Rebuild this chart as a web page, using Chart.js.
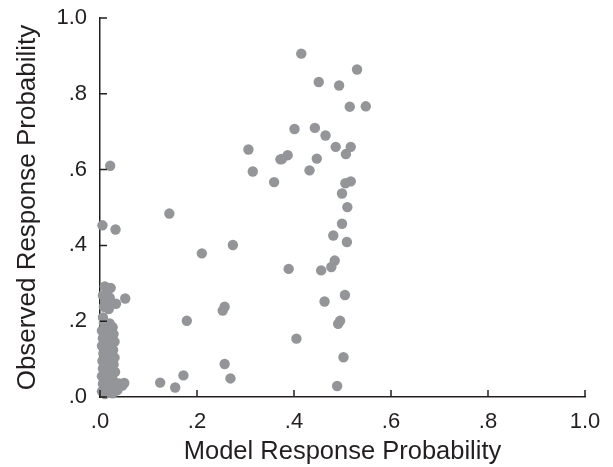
<!DOCTYPE html>
<html>
<head>
<meta charset="utf-8">
<script src="https://cdn.jsdelivr.net/npm/chart.js@4"></script>
<style>
html,body{margin:0;padding:0;background:#fff;}
#wrap{width:613px;height:467px;position:relative;}
</style>
</head>
<body>
<div id="wrap"><canvas id="c" width="613" height="467"></canvas></div>
<script>
// Model response probability (x) for each item
const modelProb = [
  // dense cluster near zero
  0.010,0.022,0.015,0.006,0.020,0.012,0.026,0.008,0.018,0.033,0.006,
  0.008,0.020,0.014,0.026,0.004,0.019,0.012,0.028,0.006,0.022,0.015,0.030,
  0.004,0.021,0.012,0.027,0.007,0.023,0.014,0.030,0.005,0.019,0.012,0.028,
  0.006,0.023,0.015,0.031,0.004,0.020,0.012,0.027,0.006,0.022,0.040,
  0.014,0.030,0.046,0.004,0.020,0.036,0.010,0.026,
  // scattered
  0.021,0.005,0.032,0.052,0.050,
  0.143,0.124,0.155,0.172,0.179,0.210,0.253,0.257,0.257,0.269,0.274,
  0.306,0.315,0.359,0.372,0.387,0.375,0.389,0.401,0.405,0.415,
  0.432,0.443,0.447,0.451,0.456,0.463,0.465,0.477,0.481,0.484,0.486,0.489,0.491,
  0.493,0.495,0.499,0.499,0.502,0.505,0.506,0.507,0.509,0.510,0.515,0.517,0.517,
  0.530,0.548
];
// Observed response probability (y) for each item
const observedProb = [
  0.292,0.288,0.278,0.268,0.262,0.252,0.247,0.238,0.232,0.246,0.210,
  0.196,0.194,0.185,0.184,0.175,0.176,0.165,0.166,0.155,0.154,0.145,0.146,
  0.135,0.136,0.125,0.124,0.115,0.116,0.105,0.104,0.095,0.096,0.085,0.086,
  0.075,0.074,0.065,0.066,0.055,0.056,0.045,0.044,0.035,0.034,0.036,
  0.025,0.026,0.030,0.015,0.016,0.018,0.008,0.010,
  0.610,0.453,0.442,0.260,0.037,
  0.484,0.038,0.025,0.057,0.201,0.379,0.228,0.238,0.087,0.049,0.401,
  0.653,0.595,0.567,0.627,0.638,0.628,0.338,0.707,0.154,0.906,
  0.598,0.710,0.629,0.831,0.334,0.252,0.690,0.343,0.426,0.360,0.660,0.029,0.193,
  0.822,0.201,0.537,0.457,0.105,0.269,0.564,0.641,0.409,0.501,0.766,0.569,0.660,
  0.864,0.767
];
const tickValues = [0, 0.2, 0.4, 0.6, 0.8, 1.0];
const tickLabels = ['.0', '.2', '.4', '.6', '.8', '1.0'];
const xTitle = 'Model Response Probability';
const yTitle = 'Observed Response Probability';

const points = modelProb.map((x, i) => ({x: x, y: observedProb[i]}));
const axisColor = '#231f20';
const textColor = '#231f20';
const fontFamily = '"Liberation Sans", Arial, sans-serif';

function labelFor(v) {
  const idx = tickValues.findIndex(t => Math.abs(t - v) < 1e-6);
  return idx >= 0 ? tickLabels[idx] : '';
}

const innerTicks = {
  id: 'innerTicks',
  afterDraw(chart) {
    const ctx = chart.ctx;
    const xs = chart.scales.x, ys = chart.scales.y;
    const L = 7;
    ctx.save();
    ctx.strokeStyle = axisColor;
    ctx.lineWidth = 1.5;
    ctx.beginPath();
    tickValues.forEach(v => {
      const px = xs.getPixelForValue(v);
      ctx.moveTo(px, ys.bottom);
      ctx.lineTo(px, ys.bottom - L);
      const py = ys.getPixelForValue(v);
      ctx.moveTo(xs.left, py);
      ctx.lineTo(xs.left + L, py);
    });
    ctx.stroke();
    ctx.restore();
  }
};

new Chart(document.getElementById('c'), {
  type: 'scatter',
  data: {
    datasets: [{
      data: points,
      backgroundColor: '#939598',
      borderColor: '#939598',
      borderWidth: 0,
      pointRadius: 5.2,
      pointHoverRadius: 5.2,
      clip: false
    }]
  },
  options: {
    responsive: false,
    animation: false,
    events: [],
    layout: {padding: {top: 18, right: 28, left: 0, bottom: 0}},
    plugins: {legend: {display: false}, tooltip: {enabled: false}},
    scales: {
      x: {
        type: 'linear', min: 0, max: 1,
        afterFit(s) { s.height = 70; s.paddingLeft = 0; s.paddingRight = 0; },
        afterBuildTicks(s) { s.ticks = tickValues.map(v => ({value: v})); },
        grid: {display: false, drawTicks: false},
        border: {display: true, color: axisColor, width: 1.5},
        ticks: {
          padding: 12, color: textColor,
          font: {family: fontFamily, size: 22},
          callback: v => labelFor(v),
          maxRotation: 0, autoSkip: false
        },
        title: {
          display: true, text: xTitle, color: textColor,
          font: {family: fontFamily, size: 25.5},
          padding: {top: 2, bottom: 0}
        }
      },
      y: {
        type: 'linear', min: 0, max: 1,
        afterFit(s) { s.width = 100; s.paddingTop = 0; s.paddingBottom = 0; },
        afterBuildTicks(s) { s.ticks = tickValues.map(v => ({value: v})); },
        grid: {display: false, drawTicks: false},
        border: {display: true, color: axisColor, width: 1.5},
        ticks: {
          padding: 13, color: textColor,
          font: {family: fontFamily, size: 22},
          callback: v => labelFor(v),
          autoSkip: false
        },
        title: {
          display: true, text: yTitle, color: textColor,
          font: {family: fontFamily, size: 26},
          padding: {top: 12, bottom: 0}
        }
      }
    }
  },
  plugins: [innerTicks]
});
</script>
</body>
</html>
